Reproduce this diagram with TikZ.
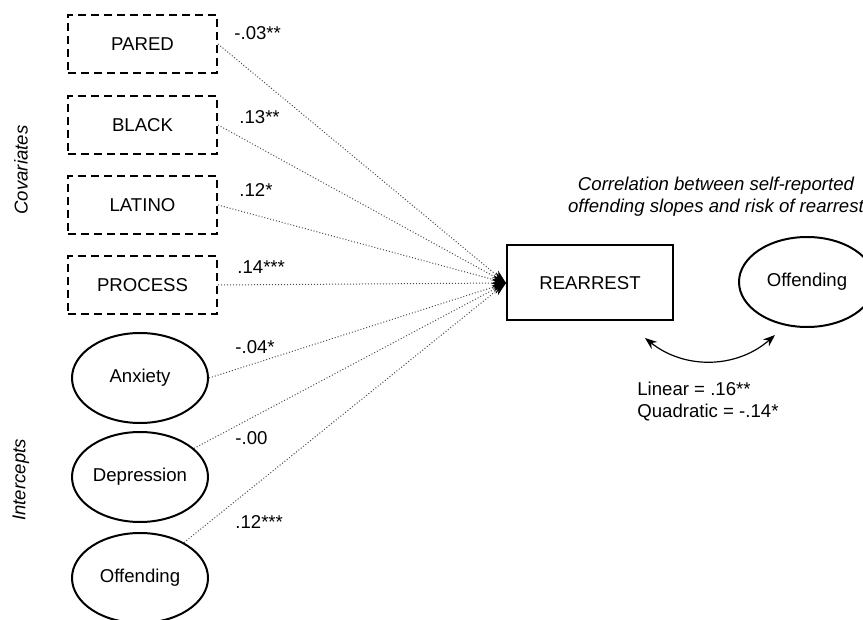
\documentclass[tikz,border=0pt]{standalone}
\usepackage{fontspec}
\setmainfont{Liberation Sans}
\usetikzlibrary{arrows.meta}
\usetikzlibrary{scopes}
\usetikzlibrary{shapes.geometric}

\begin{document}
\begin{tikzpicture}[x=0.5pt,y=-0.5pt,font=\fontsize{9.3}{11}\selectfont]
\useasboundingbox (0,0) rectangle (863,620);
\begin{scope}[every node/.style={rectangle,draw,line width=1pt,
              dash pattern=on 4pt off 2.5pt,
              minimum width=74.5pt,minimum height=29pt}]
    \node (pared) at (142.5,44) {PARED};
    \node (black) at (142.5,125) {BLACK};
    \node (latino) at (142.5,205) {LATINO};
    \node (process) at (142.5,285) {PROCESS};
\end{scope}

\begin{scope}[every node/.style={ellipse,draw,line width=1pt,inner sep=0pt,
              minimum width=68pt,minimum height=45pt}]
    \node (anx) at (140,378) {Anxiety};
    \node (dep) at (140,477) {Depression};
    \node (off) at (140,578) {Offending};
    \node (slope) at (807,282) {Offending};
\end{scope}

\node [draw,line width=1pt,minimum width=83pt,minimum height=37.5pt]
    (rearrest) at (590,283) {REARREST};

\begin{scope}[every node/.style={anchor=west,inner sep=0pt}]
    \node (lpared) at (234,33) {-.03**};
    \node (lblack) at (239,117) {.13**};
    \node (llatino) at (239,190) {.12*};
    \node (lprocess) at (237,267) {.14***};
    \node (lanx) at (235,347) {-.04*};
    \node (ldep) at (235,438) {-.00};
    \node (loff) at (235,522) {.12***};
\end{scope}

\node [rotate=90,font=\fontsize{9.3}{11}\selectfont\itshape]
    (cov) at (21,170) {Covariates};
\node [rotate=90,font=\fontsize{9.3}{11}\selectfont\itshape]
    (icp) at (21,480) {Intercepts};
\node [align=center,font=\fontsize{9.3}{11}\selectfont\itshape]
    (title) at (716,197) {Correlation between self-reported\\offending slopes and risk of rearrest};
\node [align=left,anchor=west,inner sep=0pt] (corr) at (637,402) {Linear = .16**\\Quadratic = -.14*};

\begin{scope}[>={Stealth[black,length=7pt,width=4.5pt]},
              every edge/.style={draw=black!70,line width=0.5pt,densely dotted}]
    \path [->] (pared.east) edge (rearrest.west);
    \path [->] (black.east) edge (rearrest.west);
    \path [->] (latino.east) edge (rearrest.west);
    \path [->] (process.east) edge (rearrest.west);
    \path [->] (anx.east) edge (rearrest.west);
    \path [->] (dep) edge (rearrest.west);
    \path [->] (off) edge (rearrest.west);
\end{scope}

\coordinate (cl) at (645,338);
\coordinate (cr) at (775,335);
\draw [{Stealth[length=6pt,width=4.5pt]}-{Stealth[length=6pt,width=4.5pt]},line width=0.6pt]
    (cl) to [bend right=40] (cr);
\end{tikzpicture}
\end{document}
